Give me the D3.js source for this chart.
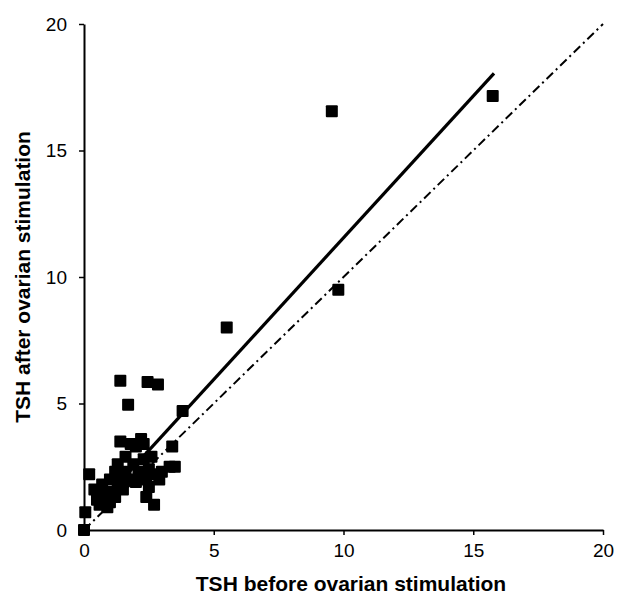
<!DOCTYPE html>
<html><head><meta charset="utf-8">
<script src="https://cdnjs.cloudflare.com/ajax/libs/d3/7.8.5/d3.min.js"></script>
<style>body{margin:0;background:#fff}svg{display:block}</style>
</head><body><svg id="c" width="617" height="608"></svg>
<script>
const xTicks = [0, 5, 10, 15, 20];
const yTicks = [0, 5, 10, 15, 20];
const tshBefore = [0,0.05,0.2,0.4,0.5,0.6,0.7,0.8,0.9,1.0,1.0,1.1,1.2,1.2,1.3,1.3,1.4,1.4,1.5,1.6,1.6,1.7,1.8,1.9,2.0,2.0,2.1,2.2,2.3,2.3,2.4,2.4,2.5,2.5,2.6,2.7,2.7,2.9,3.0,3.3,3.4,3.5,3.8,1.4,1.7,2.45,2.85,5.5,9.55,9.8,15.75];
const tshAfter  = [0,0.7,2.2,1.6,1.2,1.0,1.8,1.4,0.9,1.1,2.0,1.5,1.3,2.3,1.8,2.6,3.5,2.1,1.6,2.9,2.3,2.0,3.4,2.6,3.3,1.9,2.3,3.6,3.4,2.8,2.0,1.3,2.4,1.7,2.9,2.2,1.0,2.0,2.3,2.5,3.3,2.5,4.7,5.9,4.95,5.85,5.75,8.0,16.55,9.5,17.15];
const regLineX = [1.0, 15.8];
const regSlope = 1.12, regIntercept = 0.35;
const identityX = [0, 20];

const svg = d3.select("#c");
const x = d3.scaleLinear().domain([0, 20]).range([84, 603]);
const y = d3.scaleLinear().domain([0, 20]).range([530, 24]);
const font = "Liberation Sans, Arial, sans-serif";

// axes
const xAxis = d3.axisBottom(x).tickValues(xTicks).tickSize(5).tickPadding(9).tickSizeOuter(0);
const yAxis = d3.axisLeft(y).tickValues(yTicks).tickSize(5).tickPadding(10).tickSizeOuter(0);
const gx = svg.append("g").attr("transform", "translate(0,530)").call(xAxis);
const gy = svg.append("g").attr("transform", "translate(84,0)").call(yAxis);
[gx, gy].forEach(g => {
  g.select(".domain").attr("stroke", "#000").attr("stroke-width", 2);
  g.selectAll(".tick line").attr("stroke", "#000").attr("stroke-width", 1.5);
  g.selectAll(".tick text").attr("fill", "#000").attr("font-family", font).attr("font-size", 19);
});
gy.selectAll(".tick text").attr("dx", "-2");

// identity line (dash-dot)
svg.append("path")
  .attr("d", d3.line().x(d => x(d)).y(d => y(d))(identityX))
  .attr("fill", "none").attr("stroke", "#000").attr("stroke-width", 2)
  .attr("stroke-dasharray", "9,4,2,4");

// regression line
svg.append("path")
  .attr("d", d3.line().x(d => x(d)).y(d => y(regSlope * d + regIntercept))(regLineX))
  .attr("fill", "none").attr("stroke", "#000").attr("stroke-width", 3.2);

// points
const pts = tshBefore.map((v, i) => [v, tshAfter[i]]);
const s = 12;
svg.append("g").selectAll("rect").data(pts).join("rect")
  .attr("x", d => x(d[0]) - s / 2).attr("y", d => y(d[1]) - s / 2)
  .attr("width", s).attr("height", s).attr("rx", 1).attr("fill", "#000");

// titles
svg.append("text").attr("x", 351).attr("y", 591).attr("text-anchor", "middle")
  .attr("font-family", font).attr("font-weight", "bold").attr("font-size", 21)
  .text("TSH before ovarian stimulation");
svg.append("text").attr("transform", "translate(30,277) rotate(-90)").attr("text-anchor", "middle")
  .attr("font-family", font).attr("font-weight", "bold").attr("font-size", 21)
  .text("TSH after ovarian stimulation");
</script></body></html>
